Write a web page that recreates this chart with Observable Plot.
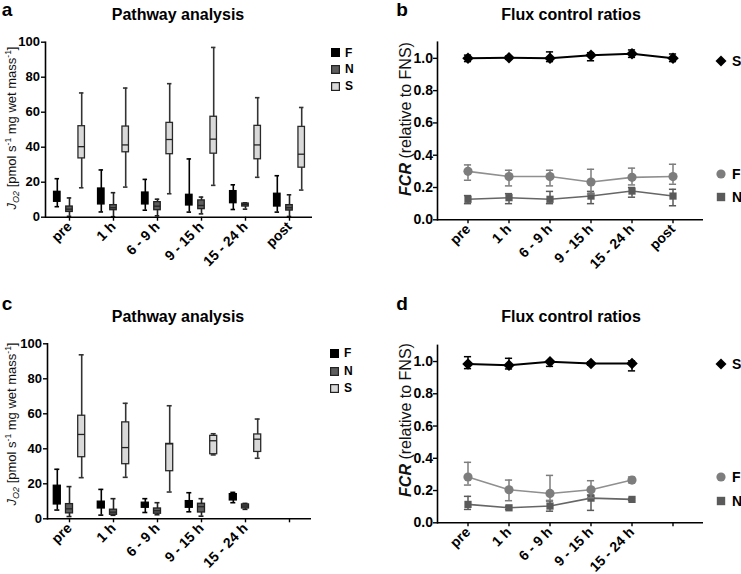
<!DOCTYPE html>
<html><head><meta charset="utf-8">
<script src="https://cdn.jsdelivr.net/npm/d3@7"></script>
<script src="https://cdn.jsdelivr.net/npm/@observablehq/plot@0.6"></script>
<style>
body{margin:0;background:#fff;}
#root{position:relative;width:741px;height:574px;font-family:"Liberation Sans",Arial,sans-serif;color:#000;overflow:hidden}
.abs{position:absolute;white-space:nowrap}
.title{font-weight:bold;font-size:16px;transform:translate(-50%,-50%)}
.letter{font-weight:bold;font-size:19px;transform:translate(-50%,-50%)}
.ylab{font-size:13px;color:#111;transform:translate(-50%,-50%) rotate(-90deg)}
.ylab sub{font-size:9px;font-style:italic;vertical-align:-3px}
.ylab sup{font-size:8.5px;vertical-align:5px}
.ylab.fcr{font-size:16px}
.leg{font-weight:bold;font-size:12px;display:flex;align-items:center;transform:translateY(-50%)}
.leg.big{font-size:14px}
.leg span{margin-left:5px}
#root svg.plot{position:absolute}
</style></head><body><div id="root"></div><script>
// ---------- data ----------
const groupsAB = ["pre", "1 h", "6 - 9 h", "9 - 15 h", "15 - 24 h", "post"];
const groupsCD = ["pre", "1 h", "6 - 9 h", "9 - 15 h", "15 - 24 h", " "];
const seriesNames = ["F", "N", "S"];

// panel a: [min, q1, median, q3, max]
const aF = [[6,8.8,11,14.5,22],[3,7.3,12,16.4,27],[4,7.3,10,14.1,21.6],[2.9,6.7,9,12.8,33.3],[4.4,8,11,14.9,18.5],[2.9,6.1,9,13.4,23.7]];
const aN = [[0.5,3,4.6,6.1,11],[0.3,4,5.4,6.9,14],[0.8,4,6.3,8.6,10.3],[1.9,4.6,6.7,9.6,11.5],[4.6,6.1,7.3,7.8,8.2],[0.4,3.8,5.4,6.9,12.8]];
const aS = [[16.8,33.6,40.3,52,71],[17.2,37.1,41.3,51.8,73.8],[13.4,36,44.4,53.9,76.3],[18.2,36.3,44.6,57.4,97],[22.8,33.1,41.3,52.2,68.3],[15.5,28.3,36,51.6,62.7]];

// panel c: [min, q1, median, q3, max]
const cF = [[5,8.2,13,18.9,28.3],[2.1,5.9,8,9.8,16.8],[3.6,6.3,7.5,9.2,11.5],[4,6.3,8,10.1,14.9],[9.2,10.5,12,14.1,15.1]];
const cN = [[1.3,3.1,5.7,8.4,18.4],[2,2.3,3.8,5.2,11.5],[2.3,2.9,4.6,5.9,9.2],[1.5,3.6,6.9,8.6,11.5],[5.4,5.9,7.3,8.2,8.8]];
const cS = [[23.5,35.2,48.2,58.9,93.7],[23.7,31.2,40.7,55.1,66],[15.3,27.2,42.8,42.8,64.6],[36.5,36.9,44.6,47.4,48.6],[34.6,38.2,45.5,48.2,57]];

// panel b: [mean, low, high]
const bS = [[1.0,0.98,1.02],[1.004,0.994,1.014],[1.0,0.98,1.04],[1.019,0.985,1.035],[1.029,1.006,1.052],[1.0,0.98,1.027]];
const bF = [[0.30,0.245,0.34],[0.268,0.21,0.307],[0.268,0.21,0.307],[0.234,0.16,0.313],[0.263,0.216,0.32],[0.268,0.22,0.344]];
const bN = [[0.127,0.1,0.15],[0.137,0.1,0.162],[0.127,0.1,0.176],[0.147,0.1,0.176],[0.178,0.14,0.2],[0.147,0.087,0.189]];

// panel d: [mean, low, high]
const dS = [[0.985,0.956,1.03],[0.977,0.954,1.02],[0.998,0.97,1.005],[0.988,0.978,0.998],[0.988,0.942,1.004]];
const dF = [[0.284,0.234,0.375],[0.205,0.137,0.265],[0.182,0.139,0.294],[0.205,0.155,0.261],[0.265,0.248,0.284]];
const dN = [[0.114,0.083,0.164],[0.093,0.083,0.103],[0.104,0.072,0.135],[0.153,0.077,0.172],[0.145,0.138,0.152]];

const boxTicks = [0, 20, 40, 60, 80, 100];
const fcrTicks = [0, 0.2, 0.4, 0.6, 0.8, 1.0];

// ---------- styles ----------
const boxStyle = {
  F: {fill: "#000", stroke: "#000", whisker: "#000", median: null},
  N: {fill: "#5e5e5e", stroke: "#222", whisker: "#222", median: "#222"},
  S: {fill: "#d9d9d9", stroke: "#2a2a2a", whisker: "#333", median: "#222"}
};
const lineStyle = {
  S: {color: "#000", line: "#000", symbol: "diamond2", r: 5.2},
  F: {color: "#7d7d7d", line: "#8f8f8f", symbol: "circle", r: 4.6},
  N: {color: "#5a5a5a", line: "#666", symbol: "square2", r: 4.6}
};
const svgStyle = {fontFamily: "'Liberation Sans', Arial, sans-serif", fontSize: "13px", fontWeight: "bold", color: "#000", background: "transparent", overflow: "visible"};

const root = document.getElementById("root");

function place(svg, left, top) {
  svg.classList.add("plot");
  svg.style.left = left + "px";
  svg.style.top = top + "px";
  root.appendChild(svg);
}

function boxPanel({groups, data, W, H, ml, mr, mt, mb}) {
  const step = (W - ml - mr) / groups.length;
  const boxW = 7, capW = 5, off = 12.2;
  const offsets = {F: -off, N: 0, S: off};
  const marks = [];
  seriesNames.forEach((s) => {
    const st = boxStyle[s];
    const rows = data[s].map((v, i) => ({g: groups[i], min: v[0], q1: v[1], med: v[2], q3: v[3], max: v[4]}));
    const dx = offsets[s];
    const capIn = (step - capW) / 2, boxIn = (step - boxW) / 2;
    marks.push(Plot.ruleX(rows, {x: "g", y1: "min", y2: "max", stroke: st.whisker, strokeWidth: 1.6, dx}));
    marks.push(Plot.tickY(rows, {x: "g", y: "min", stroke: st.whisker, strokeWidth: 1.6, insetLeft: capIn, insetRight: capIn, dx}));
    marks.push(Plot.tickY(rows, {x: "g", y: "max", stroke: st.whisker, strokeWidth: 1.6, insetLeft: capIn, insetRight: capIn, dx}));
    marks.push(Plot.barY(rows, {x: "g", y1: "q1", y2: "q3", fill: st.fill, stroke: st.stroke, strokeWidth: 1.3, insetLeft: boxIn, insetRight: boxIn, dx}));
    if (st.median) marks.push(Plot.tickY(rows, {x: "g", y: "med", stroke: st.median, strokeWidth: 1.3, insetLeft: boxIn, insetRight: boxIn, dx}));
  });
  return Plot.plot({
    width: W, height: H, marginLeft: ml, marginRight: mr, marginTop: mt, marginBottom: mb,
    style: svgStyle,
    x: {type: "band", domain: groups, padding: 0, label: null},
    y: {domain: [0, 100], label: null},
    marks: [
      ...marks,
      Plot.ruleY([0], {stroke: "#000", strokeWidth: 1.6}),
      Plot.frame({anchor: "left", stroke: "#000", strokeWidth: 1.6}),
      Plot.axisY({ticks: boxTicks, tickSize: 4, tickPadding: 1.5, label: null, strokeWidth: 1.4, fontSize: 13}),
      Plot.axisX({tickSize: 4, tickPadding: 3, tickRotate: -45, label: null, strokeWidth: 1.4, fontSize: 14})
    ]
  });
}

function linePanel({groups, data, W, H, ml, mr, mt, mb}) {
  const po = 0.18;
  const step = (W - ml - mr) / (groups.length + 2 * po);
  const capW = 8, capIn = (step - capW) / 2;
  const marks = [];
  ["N", "F", "S"].forEach((s) => {
    const st = lineStyle[s];
    const rows = data[s].map((v, i) => ({g: groups[i], m: v[0], lo: v[1], hi: v[2]}));
    marks.push(Plot.ruleX(rows, {x: "g", y1: "lo", y2: "hi", stroke: st.color, strokeWidth: 1.5}));
    marks.push(Plot.tickY(rows, {x: "g", y: "lo", stroke: st.color, strokeWidth: 1.5, insetLeft: capIn, insetRight: capIn}));
    marks.push(Plot.tickY(rows, {x: "g", y: "hi", stroke: st.color, strokeWidth: 1.5, insetLeft: capIn, insetRight: capIn}));
    marks.push(Plot.line(rows, {x: "g", y: "m", stroke: st.line, strokeWidth: s === "S" ? 2 : 1.6}));
    marks.push(Plot.dot(rows, {x: "g", y: "m", symbol: st.symbol, fill: st.color, r: st.r, stroke: "none"}));
  });
  return Plot.plot({
    width: W, height: H, marginLeft: ml, marginRight: mr, marginTop: mt, marginBottom: mb,
    style: svgStyle,
    x: {type: "band", domain: groups, paddingInner: 0, paddingOuter: po, label: null},
    y: {domain: [0, 1.1], label: null},
    marks: [
      ...marks,
      Plot.ruleY([0], {stroke: "#000", strokeWidth: 1.6}),
      Plot.frame({anchor: "left", stroke: "#000", strokeWidth: 1.6}),
      Plot.axisY({ticks: fcrTicks, tickFormat: d3.format(".1f"), tickSize: 4, tickPadding: 0.5, label: null, strokeWidth: 1.4, fontSize: 14}),
      Plot.axisX({tickSize: 4, tickPadding: 3, tickRotate: -45, label: null, strokeWidth: 1.4, fontSize: 14})
    ]
  });
}

place(boxPanel({groups: groupsAB, data: {F: aF, N: aN, S: aS}, W: 370, H: 287, ml: 45, mr: 58, mt: 41.7, mb: 70.3}), 0, 0);
place(linePanel({groups: groupsAB, data: {F: bF, N: bN, S: bS}, W: 371, H: 287, ml: 67, mr: 38, mt: 41.7, mb: 67.7}), 370, 0);
place(boxPanel({groups: groupsCD, data: {F: cF, N: cN, S: cS}, W: 370, H: 287, ml: 47, mr: 59, mt: 56.3, mb: 55.7}), 0, 287);
place(linePanel({groups: groupsCD, data: {F: dF, N: dN, S: dS}, W: 371, H: 287, ml: 67, mr: 38, mt: 57.9, mb: 51.7}), 370, 287);

// ---------- text ----------
function addDiv(cls, html, x, y) {
  const d = document.createElement("div");
  d.className = "abs " + cls;
  d.style.left = x + "px";
  d.style.top = y + "px";
  d.innerHTML = html;
  root.appendChild(d);
  return d;
}
addDiv("letter", "a", 7, 10);
addDiv("letter", "b", 402, 10);
addDiv("letter", "c", 7, 304);
addDiv("letter", "d", 402, 304);
addDiv("title", "Pathway analysis", 178, 15);
addDiv("title", "Flux control ratios", 571, 15);
addDiv("title", "Pathway analysis", 178, 317);
addDiv("title", "Flux control ratios", 571, 317);
const jLab = "<i>J</i><sub>O2</sub> [pmol s<sup>-1</sup> mg wet mass<sup>-1</sup>]";
const fLab = "<b><i>FCR</i></b> (relative to FNS)";
addDiv("ylab", jLab, 12, 128);
addDiv("ylab", jLab, 12, 424);
addDiv("ylab fcr", fLab, 406, 119);
addDiv("ylab fcr", fLab, 406, 420);

// ---------- legends ----------
function boxSwatch(s) {
  const st = boxStyle[s];
  return `<svg width="9" height="9" style="display:block"><rect x="0.6" y="0.6" width="7.8" height="7.8" fill="${st.fill}" stroke="${s === "F" ? "#000" : "#222"}" stroke-width="1.2"/></svg>`;
}
function lineSwatch(s) {
  const st = lineStyle[s];
  let shape;
  if (s === "S") shape = `<polygon points="6,0.5 11.5,6 6,11.5 0.5,6" fill="${st.color}"/>`;
  else if (s === "F") shape = `<circle cx="6" cy="6" r="4.6" fill="${st.color}"/>`;
  else shape = `<rect x="1.8" y="1.8" width="8.4" height="8.4" fill="${st.color}"/>`;
  return `<svg width="12" height="12" style="display:block">${shape}</svg>`;
}
const legBoxA = [52.5, 69, 86];
const legBoxC = [353, 371, 388];
seriesNames.forEach((s, i) => {
  addDiv("leg", boxSwatch(s) + `<span>${s}</span>`, 331, legBoxA[i]);
  addDiv("leg", boxSwatch(s) + `<span>${s}</span>`, 330, legBoxC[i]);
});
const legLineB = {S: 61, F: 174, N: 197};
const legLineD = {S: 364, F: 477, N: 501};
["S", "F", "N"].forEach((s) => {
  addDiv("leg big", lineSwatch(s) + `<span>${s}</span>`, 715, legLineB[s]);
  addDiv("leg big", lineSwatch(s) + `<span>${s}</span>`, 715, legLineD[s]);
});
</script></body></html>
